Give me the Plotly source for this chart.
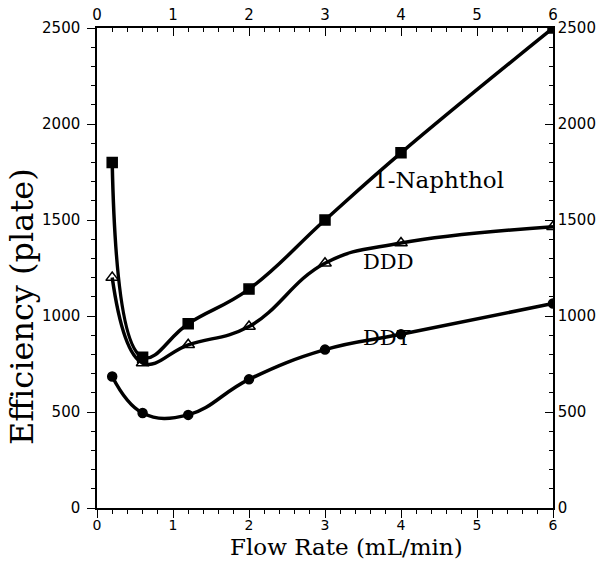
import plotly.graph_objects as go

flow = [0.2, 0.6, 1.2, 2.0, 3.0, 4.0, 6.0]
naphthol = [1800, 785, 960, 1140, 1500, 1850, 2500]
ddd = [1200, 755, 850, 945, 1275, 1380, 1465]
ddt = [685, 495, 485, 670, 825, 905, 1065]

x_ticks = [0, 1, 2, 3, 4, 5, 6]
y_ticks = [0, 500, 1000, 1500, 2000, 2500]

labels = [("1-Naphthol", 4.49, 1710, 23), ("DDD", 3.83, 1281, 21), ("DDT", 3.82, 885, 21)]

fig = go.Figure()
series = [
    (naphthol, "square", 10),
    (ddd, "triangle-up-open", 11),
    (ddt, "circle", 9),
]
for vals, sym, sz in series:
    fig.add_trace(go.Scatter(
        x=flow, y=vals, mode="lines+markers",
        line=dict(color="black", width=3.5, shape="spline", smoothing=1.2),
        marker=dict(symbol=sym, size=sz, color="black", line=dict(color="black", width=1.5)),
        showlegend=False, hoverinfo="skip",
    ))
# invisible trace for the mirrored axes
fig.add_trace(go.Scatter(x=[0, 6], y=[0, 2500], xaxis="x2", yaxis="y2",
                         mode="markers", marker=dict(opacity=0), showlegend=False, hoverinfo="skip"))

for text, xv, yv, fs in labels:
    fig.add_annotation(x=xv, y=yv, text=text, showarrow=False,
                       font=dict(family="DejaVu Serif", size=fs, color="black"))

# axis titles
fig.add_annotation(xref="paper", yref="paper", x=0.548, y=-0.111, text="Flow Rate (mL/min)",
                   showarrow=False, xanchor="center", yanchor="bottom", borderpad=0,
                   font=dict(family="DejaVu Serif", size=23, color="black"))
fig.add_annotation(xref="paper", yref="paper", x=-0.164, y=0.419, text="Efficiency (plate)",
                   showarrow=False, textangle=-90, xanchor="center", yanchor="middle",
                   font=dict(family="DejaVu Serif", size=32, color="black"))

tickfont = dict(family="DejaVu Sans", size=15, color="black")
common = dict(showgrid=False, zeroline=False, showline=True, linecolor="black", linewidth=1.5,
              tickcolor="black", tickwidth=1.2, tickfont=tickfont, automargin=False)

fig.update_layout(
    width=603, height=562,
    margin=dict(l=97, r=50, t=28, b=54),
    plot_bgcolor="white", paper_bgcolor="white",
    xaxis=dict(range=[0, 6], tickvals=x_ticks, ticks="outside", ticklen=8,
               ticklabelstandoff=-5,
               minor=dict(dtick=0.2, ticks="outside", ticklen=4, tickcolor="black"),
               **{**common, "tickfont": dict(family="DejaVu Sans", size=14, color="black")}),
    yaxis=dict(range=[0, 2500], tickvals=y_ticks, ticks="outside", ticklen=8,
               ticklabelstandoff=4,
               minor=dict(dtick=100, ticks="outside", ticklen=4, tickcolor="black"),
               **common),
    xaxis2=dict(range=[0, 6], tickvals=x_ticks, overlaying="x", side="top", anchor="y",
                ticks="inside", ticklen=8,
                minor=dict(dtick=0.2, ticks="inside", ticklen=4, tickcolor="black"),
                **common),
    yaxis2=dict(range=[0, 2500], tickvals=y_ticks, overlaying="y", side="right", anchor="x",
                ticks="inside", ticklen=8,
                minor=dict(dtick=100, ticks="inside", ticklen=4, tickcolor="black"),
                **common),
)

fig.write_html("out.html")
